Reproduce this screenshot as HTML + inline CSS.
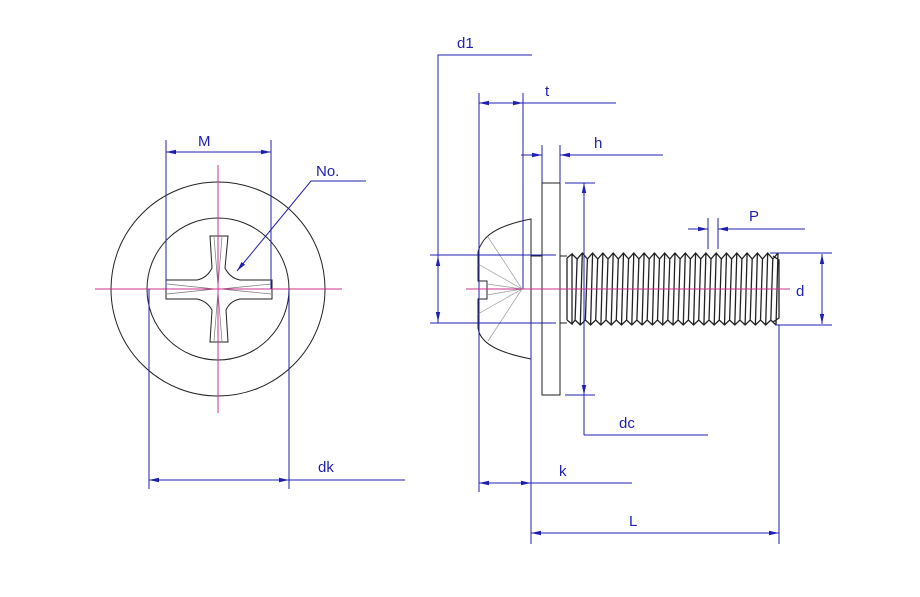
<!DOCTYPE html>
<html><head><meta charset="utf-8"><style>
html,body{margin:0;padding:0;background:#fff;}
svg{display:block;font-family:"Liberation Sans",sans-serif;}
</style></head><body>
<svg width="920" height="597" viewBox="0 0 920 597" xmlns="http://www.w3.org/2000/svg">
<defs>
<marker id="a" viewBox="0 0 10 6" refX="10" refY="3" markerWidth="10" markerHeight="6" orient="auto-start-reverse" markerUnits="userSpaceOnUse"><path d="M0,0.8 L10,3 L0,5.2z" fill="#2020b0"/></marker>
</defs>
<rect width="920" height="597" fill="#fff"/>
<g fill="none" stroke="#222" stroke-width="1">
<circle cx="218" cy="289" r="107"/>
<circle cx="218" cy="289" r="71"/>
<path d="M210,236 L228,236 L225,268 Q230,278 240,280 L272,280 L272,299 L240,299 Q230,301 226,310 L228,342 L210,342 L212,310 Q207,301 197,299 L166,299 L166,280 L197,280 Q207,278 212,268 Z"/>
<path d="M214,237 L218,286 L222,237 M214,341 L218,292 L222,341 M167,284 L215,289 L167,294 M271,284 L221,289 L271,294" stroke="#777" stroke-width="0.7"/>
</g>
<g stroke="#d0308a" stroke-width="1"><line x1="95" y1="289" x2="342" y2="289"/><line x1="218" y1="165" x2="218" y2="413"/></g>
<g stroke="#2020b0" stroke-width="1" fill="none">
<line x1="166" y1="140" x2="166" y2="289"/><line x1="271" y1="140" x2="271" y2="289"/>
<line x1="166" y1="152" x2="271" y2="152" marker-start="url(#a)" marker-end="url(#a)"/>
<line x1="149" y1="289" x2="149" y2="489"/><line x1="289" y1="289" x2="289" y2="489"/>
<line x1="149" y1="480" x2="289" y2="480" marker-start="url(#a)" marker-end="url(#a)"/>
<line x1="289" y1="480" x2="405" y2="480"/>
<polyline points="366,181 311,181 237,271" marker-end="url(#a)"/>
</g>
<g fill="#2020b0" font-size="15">
<text x="198" y="146">M</text><text x="316" y="176">No.</text><text x="318" y="472">dk</text>
</g>
<g fill="none" stroke="#222" stroke-width="1">
<path d="M531,219 Q495,226 484,240 Q479,247 478,252 L478,281 L487,281 L487,299 L478,299 L478,328 Q479,335 484,340 Q495,352 531,359 Z"/>
<path d="M488,237 L522,289 L488,341 M478,264 L522,289 L478,314 M487,284 L522,289 L487,295" stroke="#999" stroke-width="0.7"/>
<rect x="542" y="183" width="18" height="212"/>
<path d="M531,256 L542,256 M531,323 L542,323 M560,256 L567,256 M560,323 L567,323"/>
</g>
<g fill="none" stroke="#222" stroke-width="1.3" id="threads"></g>
<g stroke="#2020b0" stroke-width="1" fill="none">
<polyline points="532,55 438,55 438,323"/>
<line x1="438" y1="289" x2="438" y2="256" marker-end="url(#a)"/>
<line x1="438" y1="289" x2="438" y2="322" marker-end="url(#a)"/>
<line x1="430" y1="255" x2="556" y2="255"/><line x1="430" y1="323" x2="556" y2="323"/>
<line x1="479" y1="93" x2="479" y2="492"/><line x1="523" y1="93" x2="523" y2="289"/>
<line x1="479" y1="103" x2="523" y2="103" marker-start="url(#a)" marker-end="url(#a)"/>
<line x1="523" y1="103" x2="616" y2="103"/>
<line x1="542" y1="145" x2="542" y2="183"/><line x1="560" y1="145" x2="560" y2="183"/>
<line x1="521" y1="155" x2="542" y2="155" marker-end="url(#a)"/>
<line x1="663" y1="155" x2="560" y2="155" marker-end="url(#a)"/>
<line x1="565" y1="183" x2="595" y2="183"/><line x1="565" y1="395" x2="595" y2="395"/>
<line x1="584" y1="435" x2="584" y2="183" marker-end="url(#a)"/>
<line x1="584" y1="300" x2="584" y2="395" marker-end="url(#a)"/>
<line x1="584" y1="435" x2="708" y2="435"/>
<line x1="708" y1="218" x2="708" y2="249"/><line x1="718" y1="218" x2="718" y2="249"/>
<line x1="688" y1="229" x2="708" y2="229" marker-end="url(#a)"/>
<line x1="805" y1="229" x2="718" y2="229" marker-end="url(#a)"/>
<line x1="770" y1="253" x2="832" y2="253"/><line x1="775" y1="325" x2="832" y2="325"/>
<line x1="822" y1="289" x2="822" y2="254" marker-end="url(#a)"/>
<line x1="822" y1="289" x2="822" y2="324" marker-end="url(#a)"/>
<line x1="531" y1="323" x2="531" y2="544"/><line x1="779" y1="325" x2="779" y2="544"/>
<line x1="479" y1="483" x2="531" y2="483" marker-start="url(#a)" marker-end="url(#a)"/>
<line x1="531" y1="483" x2="632" y2="483"/>
<line x1="531" y1="533" x2="779" y2="533" marker-start="url(#a)" marker-end="url(#a)"/>
</g>
<line x1="466" y1="289" x2="790" y2="289" stroke="#d0308a" stroke-width="1"/>
<g fill="#2020b0" font-size="15">
<text x="457" y="48">d1</text><text x="545" y="96">t</text><text x="594" y="148">h</text>
<text x="749" y="221">P</text><text x="796" y="296">d</text><text x="619" y="428">dc</text>
<text x="559" y="476">k</text><text x="629" y="526">L</text>
</g>
</svg>
<script>
(function(){
var g=document.getElementById('threads');var ns='http://www.w3.org/2000/svg';
var d='M567,258 L567,320 M567,258 L572,254 L572,324 L567,320 ';
var top='M572,254',bot='M572,324';
for(var x=572;x<770;x+=10.3){
 var c=x+5.1;
 top+=' L'+(c).toFixed(1)+',259 L'+(x+10.3).toFixed(1)+',253';
 bot+=' L'+(c-2).toFixed(1)+',320 L'+(x+8.3).toFixed(1)+',325';
 d+='M'+(x+10.3).toFixed(1)+',253 L'+(x+8.3).toFixed(1)+',325 ';
 d+='M'+(c).toFixed(1)+',259 L'+(c-2).toFixed(1)+',320 ';
}
d+='M773,256 L779,260 L779,318 L773,322';
var p=document.createElementNS(ns,'path');p.setAttribute('d',top+' '+bot+' '+d);g.appendChild(p);
})();
</script>
</body></html>
